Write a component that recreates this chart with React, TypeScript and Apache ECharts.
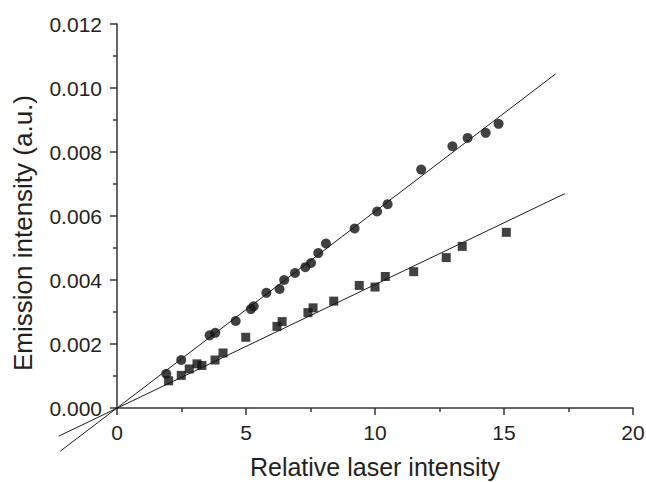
import React, { useEffect, useRef } from "react";
import * as echarts from "echarts";

const circleX = [1.91, 2.49, 3.59, 3.81, 4.6, 5.19, 5.3, 5.79, 6.3, 6.48, 6.9, 7.3, 7.52, 7.8, 8.1, 9.21, 10.08, 10.49, 11.79, 13.0, 13.59, 14.29, 14.79];
const circleY = [0.00107, 0.0015, 0.00227, 0.00235, 0.00272, 0.00309, 0.00318, 0.0036, 0.00372, 0.004, 0.00422, 0.0044, 0.00453, 0.00484, 0.00514, 0.00561, 0.00614, 0.00637, 0.00745, 0.00818, 0.00844, 0.0086, 0.00888];

const squareX = [2.0, 2.49, 2.8, 3.1, 3.29, 3.8, 4.11, 4.99, 6.2, 6.4, 7.4, 7.6, 8.4, 9.39, 10.0, 10.4, 11.5, 12.76, 13.38, 15.09];
const squareY = [0.00085, 0.00102, 0.00122, 0.00138, 0.00133, 0.0015, 0.00172, 0.00221, 0.00255, 0.0027, 0.00298, 0.00313, 0.00334, 0.00383, 0.00378, 0.00411, 0.00426, 0.0047, 0.00505, 0.00549];

// Fitted straight lines, endpoints: [xStart, yStart, xEnd, yEnd]
const fitCircle = [-2.2, -0.00135, 17.0, 0.01044];
const fitSquare = [-2.26, -0.00088, 17.36, 0.0067];

const xTicks = { min: 0, max: 20, interval: 5 };
const yTicks = { min: 0, max: 0.012, interval: 0.002 };

const FONT = "'Liberation Sans', Arial, Helvetica, sans-serif";
const INK = "#231f20";

function zip(xs: number[], ys: number[]) {
  return xs.map((x, i) => [x, ys[i]]);
}

export default function App() {
  const ref = useRef<HTMLDivElement>(null);
  useEffect(() => {
    if (!ref.current) return;
    const chart = echarts.init(ref.current, undefined, { renderer: "svg" });
    const axisCommon = {
      axisLine: { show: true, onZero: false, lineStyle: { color: "#333", width: 1.5 } },
      axisTick: { show: true, length: 7, lineStyle: { color: "#333", width: 1.5 } },
      minorTick: { show: true, splitNumber: 2, length: 4, lineStyle: { color: "#333", width: 1.5 } },
      splitLine: { show: false },
      minorSplitLine: { show: false },
    };
    const renderFit = (params: any, api: any) => {
      const p0 = api.coord([api.value(0), api.value(1)]);
      const p1 = api.coord([api.value(2), api.value(3)]);
      return {
        type: "line",
        shape: { x1: p0[0], y1: p0[1], x2: p1[0], y2: p1[1] },
        style: { stroke: "#1a1a1a", lineWidth: 1 },
        silent: true,
      };
    };
    chart.setOption({
      animation: false,
      backgroundColor: "#ffffff",
      grid: {
        left: 117,
        right: 13,
        top: 24,
        bottom: 74,
        containLabel: false,
        outerBoundsMode: "none",
      },
      xAxis: {
        type: "value",
        ...axisCommon,
        min: xTicks.min,
        max: xTicks.max,
        interval: xTicks.interval,
        name: "Relative laser intensity",
        nameLocation: "middle",
        nameGap: 46,
        nameTextStyle: { fontFamily: FONT, fontSize: 25, color: INK },
        axisLabel: { fontFamily: FONT, fontSize: 21, color: INK, margin: 14 },
      },
      yAxis: {
        type: "value",
        ...axisCommon,
        min: yTicks.min,
        max: yTicks.max,
        interval: yTicks.interval,
        name: "Emission intensity (a.u.)",
        nameLocation: "middle",
        nameGap: 81,
        nameTextStyle: {
          fontFamily: FONT,
          fontSize: 26,
          color: INK,
          padding: [0, 34, 0, 0],
        },
        axisLabel: {
          fontFamily: FONT,
          fontSize: 21,
          color: INK,
          margin: 15,
          formatter: (v: number) => v.toFixed(3),
        },
      },
      series: [
        {
          type: "custom",
          renderItem: renderFit,
          data: [fitCircle, fitSquare],
          encode: { x: 2, y: 3 },
          clip: false,
          silent: true,
          z: 1,
        },
        {
          type: "scatter",
          data: zip(circleX, circleY),
          symbol: "circle",
          symbolSize: 10,
          itemStyle: { color: "#111" },
          clip: false,
          z: 2,
        },
        {
          type: "scatter",
          data: zip(squareX, squareY),
          symbol: "rect",
          symbolSize: 9,
          itemStyle: { color: "#111" },
          clip: false,
          z: 2,
        },
      ],
    });
    return () => chart.dispose();
  }, []);
  return (
    <div
      ref={ref}
      style={{ position: "fixed", left: 0, top: 0, width: 646, height: 482, background: "#fff" }}
    />
  );
}
